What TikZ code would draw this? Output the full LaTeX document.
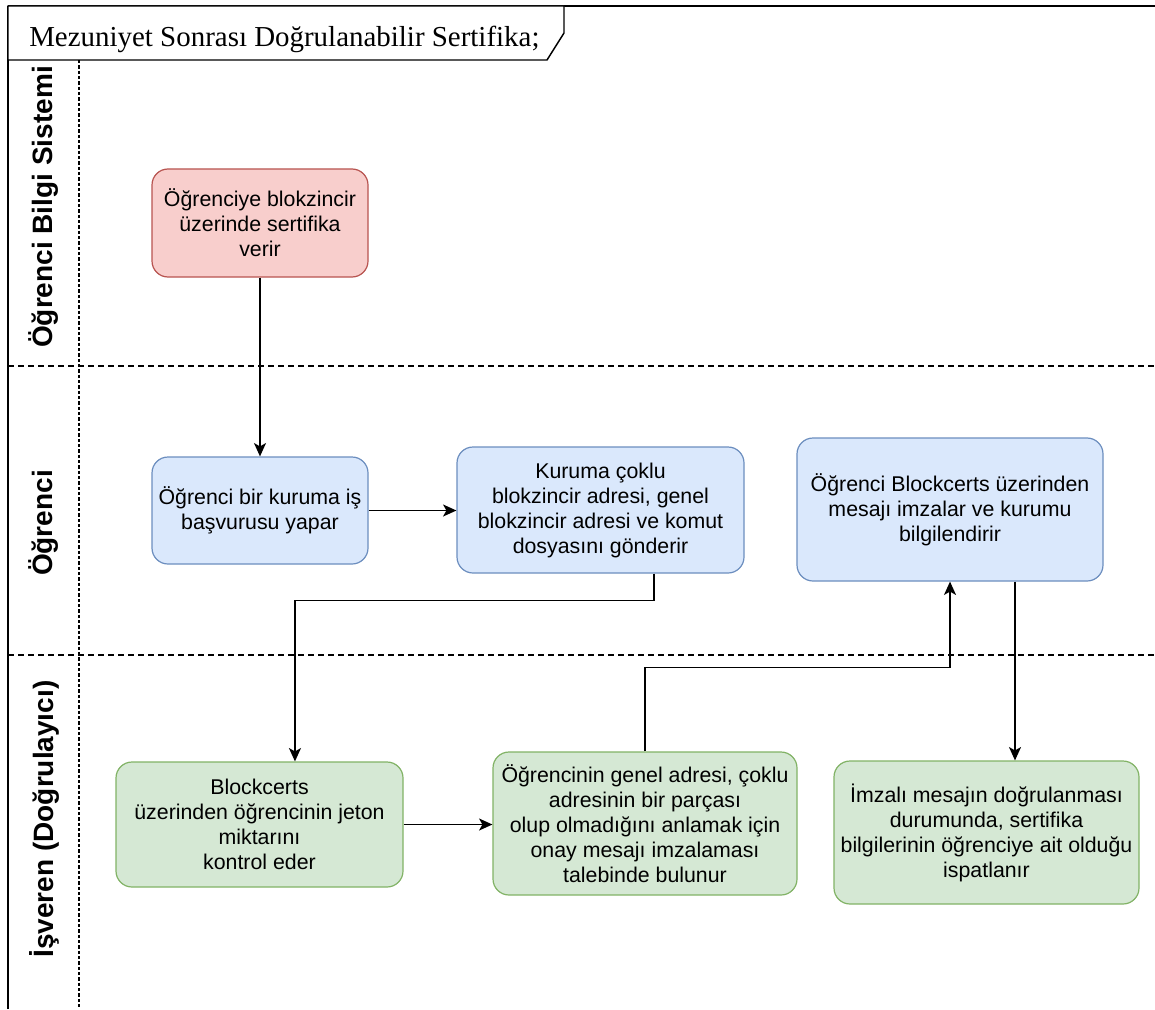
\documentclass[tikz,border=0pt]{standalone}
\usepackage{fontspec}
\setmainfont{Liberation Sans}
\newfontfamily\titleserif{Liberation Serif}
\usetikzlibrary{arrows.meta}

\definecolor{redfill}{HTML}{F8CECC}
\definecolor{redline}{HTML}{B85450}
\definecolor{bluefill}{HTML}{DAE8FC}
\definecolor{blueline}{HTML}{6C8EBF}
\definecolor{greenfill}{HTML}{D5E8D4}
\definecolor{greenline}{HTML}{82B366}

\begin{document}
\begin{tikzpicture}[x=0.75pt,y=-0.75pt,
  proc/.style={rectangle, rounded corners=12pt, line width=0.9pt, inner sep=0pt,
    align=center, font=\fontsize{16}{18.75}\selectfont},
  redbox/.style={proc, fill=redfill, draw=redline},
  bluebox/.style={proc, fill=bluefill, draw=blueline},
  greenbox/.style={proc, fill=greenfill, draw=greenline},
  conn/.style={line width=1.2pt, -{Stealth[length=10pt,width=9pt,inset=2.5pt]}},
  lanelabel/.style={rotate=90, font=\bfseries\fontsize{21}{25}\selectfont, inner sep=0pt},
  lanesep/.style={line width=0.8pt, dash pattern=on 4.5pt off 3pt},
  lanecol/.style={line width=0.8pt, dash pattern=on 2.5pt off 1.5pt}]

\useasboundingbox (0,0) rectangle (1155,1009);
\fill[white] (0,0) rectangle (1155,1009);

% pool frame and separators
\draw[lanesep] (8,366) -- (1155,366);
\draw[lanesep] (8,655) -- (1155,655);
\draw[lanecol] (79,60) -- (79,1009);
\draw[line width=1.2pt] (8,1009) -- (8,6);
\draw[line width=1.6pt] (8,6) -- (1155,6);

% title tab
\draw[line width=1.1pt, fill=white] (8,6) -- (564,6) -- (564,33) -- (547,60) -- (8,60) -- cycle;
\node[anchor=base west, inner sep=0pt, font=\titleserif\fontsize{21.7}{25}\selectfont]
  (title) at (29,47) {Mezuniyet Sonrası Doğrulanabilir Sertifika;};

% lane labels
\node[lanelabel] (lane1) at (44,207) {Öğrenci Bilgi Sistemi};
\node[lanelabel] (lane2) at (44,523) {Öğrenci};
\node[lanelabel] (lane3) at (44,819) {İşveren (Doğrulayıcı)};

% process steps
\node[redbox, minimum width=162pt, minimum height=81pt] (n1) at (260,223)
  {Öğrenciye blokzincir\\üzerinde sertifika\\verir};
\node[bluebox, minimum width=162pt, minimum height=80.25pt] (n2) at (260,510.5)
  {Öğrenci bir kuruma iş\\başvurusu yapar};
\node[bluebox, minimum width=215.25pt, minimum height=94.5pt] (n3) at (600.5,510)
  {Kuruma çoklu\\blokzincir adresi, genel\\blokzincir adresi ve komut\\dosyasını gönderir};
\node[bluebox, minimum width=229.5pt, minimum height=107.25pt] (n4) at (950,509.5)
  {Öğrenci Blockcerts üzerinden\\mesajı imzalar ve kurumu\\bilgilendirir};
\node[greenbox, minimum width=215.25pt, minimum height=93.75pt] (n5) at (259.5,824.5)
  {Blockcerts\\üzerinden öğrencinin jeton\\miktarını\\kontrol eder};
\node[greenbox, minimum width=228pt, minimum height=107.25pt] (n6) at (645,823.5)
  {Öğrencinin genel adresi, çoklu\\adresinin bir parçası\\olup olmadığını anlamak için\\onay mesajı imzalaması\\talebinde bulunur};
\node[greenbox, minimum width=228.75pt, minimum height=107.25pt] (n7) at (986.5,832.5)
  {İmzalı mesajın doğrulanması\\durumunda, sertifika\\bilgilerinin öğrenciye ait olduğu\\ispatlanır};

% connectors
\draw[conn] (n1.south) -- (n2.north);
\draw[conn] (n2.east) -- (n2.east -| n3.west);
\draw[conn] ([xshift=40pt]n3.south) -- ++(0,27) -| ([xshift=26.6pt]n5.north);
\draw[conn] (n5.east) -- (n5.east -| n6.west);
\draw[conn] (n6.north) -- ++(0,-84) -| (n4.south);
\draw[conn] ([xshift=48.75pt]n4.south) -- ([xshift=48.75pt]n4.south |- n7.north);

\end{tikzpicture}
\end{document}
